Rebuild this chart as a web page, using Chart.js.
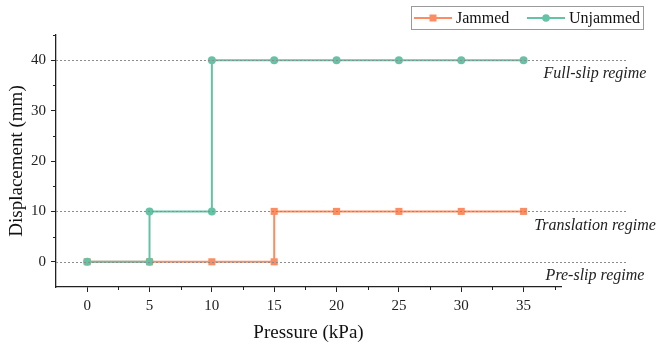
<!DOCTYPE html>
<html>
<head>
<meta charset="utf-8">
<script src="https://cdn.jsdelivr.net/npm/chart.js@4"></script>
<style>
html,body{margin:0;padding:0;background:#fff;}
canvas{display:block;}
</style>
</head>
<body>
<canvas id="c" width="660" height="344"></canvas>
<script>
// ---- data ----
const seriesNames = ['Jammed', 'Unjammed'];
const pressureJammed = [0, 5, 10, 15, 15, 20, 25, 30, 35];
const dispJammed     = [0, 0, 0, 0, 10, 10, 10, 10, 10];
const pressureUnjammed = [0, 5, 5, 10, 10, 15, 20, 25, 30, 35];
const dispUnjammed     = [0, 0, 10, 10, 40, 40, 40, 40, 40, 40];
const xTickValues = [0, 5, 10, 15, 20, 25, 30, 35];
const xMinorValues = [2.5, 7.5, 12.5, 17.5, 22.5, 27.5, 32.5, 37.5];
const yTickValues = [0, 10, 20, 30, 40];
const yMinorValues = [5, 15, 25, 35, 45];
const regimeLevels = [40, 10, 0];
const regimeLabels = ['Full-slip regime', 'Translation regime', 'Pre-slip regime'];

const ORANGE = '#FC8D62';
const GREEN = '#66C2A5';
const SERIF = '"Liberation Serif", "Times New Roman", serif';

const toPoints = (xs, ys) => xs.map((x, i) => ({x: x, y: ys[i]}));

const overlay = {
  id: 'overlay',
  afterDatasetsDraw(chart) {
    const {ctx, chartArea} = chart;
    const ys = chart.scales.y;
    ctx.save();
    ctx.strokeStyle = '#8c8c8c';
    ctx.lineWidth = 1;
    ctx.setLineDash([2, 2]);
    regimeLevels.forEach(v => {
      const py = Math.round(ys.getPixelForValue(v)) + 0.5;
      ctx.beginPath();
      ctx.moveTo(chartArea.left, py);
      ctx.lineTo(chartArea.right + 66, py);
      ctx.stroke();
    });
    ctx.setLineDash([]);
    ctx.fillStyle = '#222';
    ctx.font = 'italic 16px ' + SERIF;
    ctx.textAlign = 'center';
    ctx.textBaseline = 'middle';
    regimeLevels.forEach((v, i) => {
      const py = ys.getPixelForValue(v);
      ctx.fillText(regimeLabels[i], chartArea.right + 34, py + 14);
    });
    ctx.restore();
  },
  afterDraw(chart) {
    const {ctx, chartArea} = chart;
    const xs = chart.scales.x, ys = chart.scales.y;
    ctx.save();
    ctx.strokeStyle = '#222';
    ctx.lineWidth = 1;
    xMinorValues.forEach(v => {
      const px = Math.round(xs.getPixelForValue(v)) + 0.5;
      ctx.beginPath();
      ctx.moveTo(px, chartArea.bottom);
      ctx.lineTo(px, chartArea.bottom + 3);
      ctx.stroke();
    });
    yMinorValues.forEach(v => {
      const py = Math.round(ys.getPixelForValue(v)) + 0.5;
      ctx.beginPath();
      ctx.moveTo(chartArea.left, py);
      ctx.lineTo(chartArea.left - 3, py);
      ctx.stroke();
    });
    // legend
    const lx = 411.5, ly = 6.5, lw = 232, lh = 23;
    ctx.strokeStyle = '#9a9a9a';
    ctx.strokeRect(lx, ly, lw, lh);
    const cy = ly + lh / 2;
    const entries = [
      {x: 414, ds: chart.data.datasets[0]},
      {x: 527, ds: chart.data.datasets[1]}
    ];
    entries.forEach(e => {
      ctx.strokeStyle = e.ds.borderColor;
      ctx.fillStyle = e.ds.borderColor;
      ctx.lineWidth = 2;
      ctx.beginPath();
      ctx.moveTo(e.x, cy);
      ctx.lineTo(e.x + 38, cy);
      ctx.stroke();
      const mx = e.x + 19;
      if (e.ds.pointStyle === 'rect') {
        ctx.fillRect(mx - 3.5, cy - 3.5, 7, 7);
      } else {
        ctx.beginPath();
        ctx.arc(mx, cy, 3.8, 0, Math.PI * 2);
        ctx.fill();
      }
      ctx.fillStyle = '#111';
      ctx.font = '16px ' + SERIF;
      ctx.textAlign = 'left';
      ctx.textBaseline = 'middle';
      ctx.fillText(e.ds.label, e.x + 42, cy + 0.5);
    });
    ctx.restore();
  }
};

new Chart(document.getElementById('c'), {
  type: 'line',
  data: {
    datasets: [
      {
        label: seriesNames[0],
        data: toPoints(pressureJammed, dispJammed),
        borderColor: ORANGE,
        backgroundColor: ORANGE,
        pointStyle: 'rect',
        pointRadius: 5,
        pointBorderWidth: 0,
        borderWidth: 2,
        order: 1
      },
      {
        label: seriesNames[1],
        data: toPoints(pressureUnjammed, dispUnjammed),
        borderColor: GREEN,
        backgroundColor: GREEN,
        pointStyle: 'circle',
        pointRadius: 4,
        pointBorderWidth: 0,
        borderWidth: 2,
        order: 0
      }
    ]
  },
  options: {
    responsive: false,
    devicePixelRatio: 1,
    animation: false,
    layout: {padding: {top: 35, right: 99, left: 0, bottom: 0}},
    plugins: {legend: {display: false}, tooltip: {enabled: false}},
    scales: {
      x: {
        type: 'linear',
        min: -2.5,
        max: 38,
        afterBuildTicks: s => { s.ticks = xTickValues.map(v => ({value: v})); },
        afterFit: s => { s.height = 57; },
        grid: {drawOnChartArea: false, drawTicks: true, tickLength: 5, color: '#222', tickColor: '#222'},
        border: {display: true, color: '#222', width: 1.3},
        ticks: {color: '#222', font: {family: SERIF, size: 15}, padding: 5, maxRotation: 0},
        title: {display: true, text: 'Pressure (kPa)', color: '#111', font: {family: SERIF, size: 19}, padding: {top: 1.5, bottom: 0}}
      },
      y: {
        type: 'linear',
        min: -5,
        max: 45,
        afterBuildTicks: s => { s.ticks = yTickValues.map(v => ({value: v})); },
        afterFit: s => { s.width = 56; },
        grid: {drawOnChartArea: false, drawTicks: true, tickLength: 5, color: '#222', tickColor: '#222'},
        border: {display: true, color: '#222', width: 1.3},
        ticks: {color: '#222', font: {family: SERIF, size: 15}, padding: 5},
        title: {display: true, text: 'Displacement (mm)', color: '#111', font: {family: SERIF, size: 19}, padding: {top: 5.5, bottom: 0}}
      }
    }
  },
  plugins: [overlay]
});
</script>
</body>
</html>
